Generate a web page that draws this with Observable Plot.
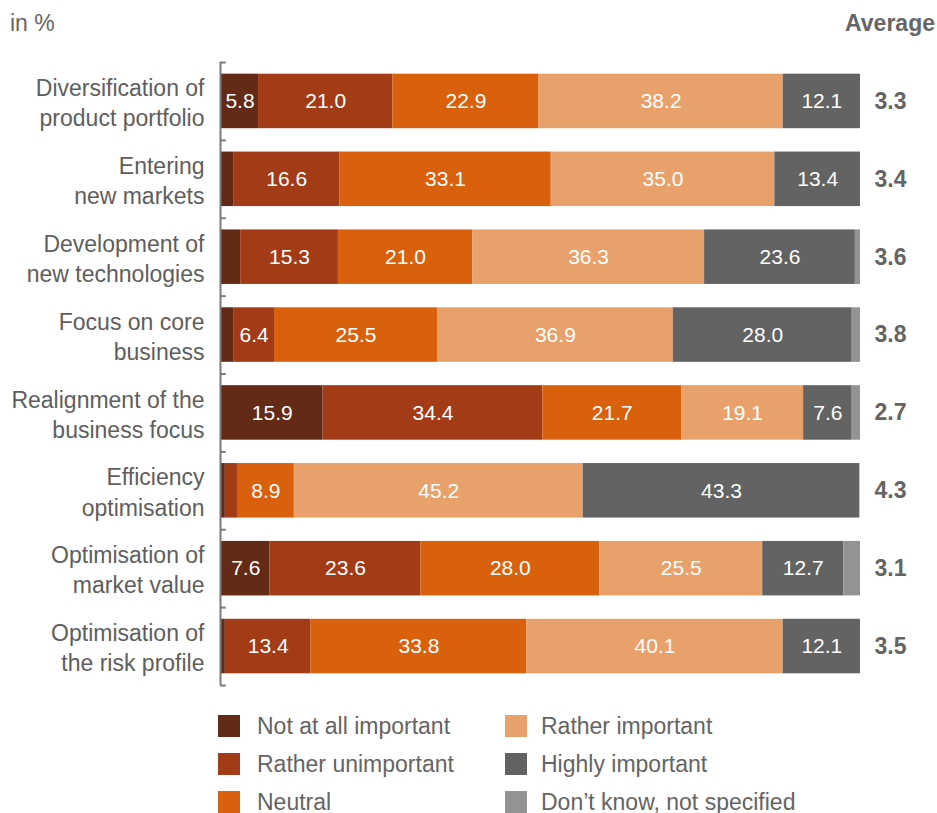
<!DOCTYPE html>
<html>
<head>
<meta charset="utf-8">
<script src="https://cdn.jsdelivr.net/npm/d3@7"></script>
<script src="https://cdn.jsdelivr.net/npm/@observablehq/plot@0.6"></script>
<style>
  html, body { margin: 0; padding: 0; background: #fff; }
  body { font-family: "Liberation Sans", Arial, Helvetica, sans-serif; color: #636363; }
  #wrap { position: relative; width: 937px; height: 813px; }
  #unit { position: absolute; left: 10px; top: 10px; font-size: 23px; color: #666; }
  #avg { position: absolute; right: 2px; top: 10px; font-size: 23px; font-weight: bold; color: #666; }
  #chart svg { display: block; }
  #legend { position: absolute; top: 715px; left: 218px; display: grid; grid-template-columns: 287px 340px; row-gap: 16px; }
  .item { display: flex; align-items: center; height: 22px; font-size: 23px; color: #646464; white-space: nowrap; }
  .sw { width: 22px; height: 22px; margin-right: 17px; flex: none; }
  .item.c2 .sw { margin-right: 14px; }
</style>
</head>
<body>
<div id="wrap">
  <div id="chart"></div>
  <div id="unit">in %</div>
  <div id="avg">Average</div>
  <div id="legend"></div>
</div>
<script>
const categories = [
  "Diversification of\nproduct portfolio",
  "Entering\nnew markets",
  "Development of\nnew technologies",
  "Focus on core\nbusiness",
  "Realignment of the\nbusiness focus",
  "Efficiency\noptimisation",
  "Optimisation of\nmarket value",
  "Optimisation of\nthe risk profile"
];
const seriesNames = [
  "Not at all important",
  "Rather unimportant",
  "Neutral",
  "Rather important",
  "Highly important",
  "Don\u2019t know, not specified"
];
const seriesColors = ["#632a15", "#a33b17", "#d9600c", "#e9a16b", "#636363", "#939393"];

const notAtAll          = [5.8, 1.9, 3.0, 1.9, 15.9, 0.6, 7.6, 0.6];
const ratherUnimportant = [21.0, 16.6, 15.3, 6.4, 34.4, 1.9, 23.6, 13.4];
const neutral           = [22.9, 33.1, 21.0, 25.5, 21.7, 8.9, 28.0, 33.8];
const ratherImportant   = [38.2, 35.0, 36.3, 36.9, 19.1, 45.2, 25.5, 40.1];
const highlyImportant   = [12.1, 13.4, 23.6, 28.0, 7.6, 43.3, 12.7, 12.1];
const dontKnow          = [0, 0, 0.8, 1.3, 1.3, 0, 2.6, 0];
const averages = ["3.3", "3.4", "3.6", "3.8", "2.7", "4.3", "3.1", "3.5"];

const seriesValues = [notAtAll, ratherUnimportant, neutral, ratherImportant, highlyImportant, dontKnow];

// build stacked table
const rows = [];
categories.forEach((c, i) => {
  let acc = 0;
  seriesValues.forEach((vals, s) => {
    const v = vals[i];
    rows.push({i, category: c, series: seriesNames[s], value: v, x1: acc, x2: acc + v});
    acc += v;
  });
});
const boundaries = d3.range(categories.length + 1).map(k => k - 0.5);

const chart = Plot.plot({
  width: 937,
  height: 700,
  marginTop: 62,
  marginBottom: 15,
  marginLeft: 221,
  marginRight: 77,
  style: {fontFamily: "'Liberation Sans', Arial, Helvetica, sans-serif", background: "#fff"},
  x: {domain: [0, 100], axis: null},
  y: {domain: [-0.5, categories.length - 0.5], range: [62, 685], axis: null},
  color: {domain: seriesNames, range: seriesColors},
  marks: [
    Plot.rect(rows.filter(d => d.value > 0), {
      x1: "x1", x2: "x2",
      y1: d => d.i - 0.35, y2: d => d.i + 0.35,
      fill: "series"
    }),
    Plot.text(rows.filter(d => d.value >= 5), {
      x: d => (d.x1 + d.x2) / 2, y: "i",
      text: d => d.value.toFixed(1),
      fill: "white", fontSize: 21
    }),
    Plot.ruleX([0], {y1: -0.5, y2: categories.length - 0.5, stroke: "#7a7a7a", strokeWidth: 2, dx: -1}),
    Plot.ruleY(boundaries, {y: d => d, x1: 0, x2: 0.9, stroke: "#7a7a7a", strokeWidth: 2, dx: -1}),
    Plot.text(categories, {
      x: 0, y: (d, i) => i, text: d => d,
      textAnchor: "end", dx: -17, fontSize: 23, lineHeight: 1.31, fill: "#5e5e5e"
    }),
    Plot.text(averages, {
      x: 100, y: (d, i) => i, text: d => d,
      textAnchor: "start", dx: 14, fontSize: 23, fontWeight: "bold", fill: "#646464"
    })
  ]
});
document.getElementById("chart").appendChild(chart);

// legend: column-major order (3 rows x 2 columns)
const legend = document.getElementById("legend");
const order = [0, 3, 1, 4, 2, 5];
order.forEach(s => {
  const item = document.createElement("div");
  item.className = "item" + (s >= 3 ? " c2" : "");
  const sw = document.createElement("span");
  sw.className = "sw";
  sw.style.background = seriesColors[s];
  item.appendChild(sw);
  item.appendChild(document.createTextNode(seriesNames[s]));
  legend.appendChild(item);
});
</script>
</body>
</html>
